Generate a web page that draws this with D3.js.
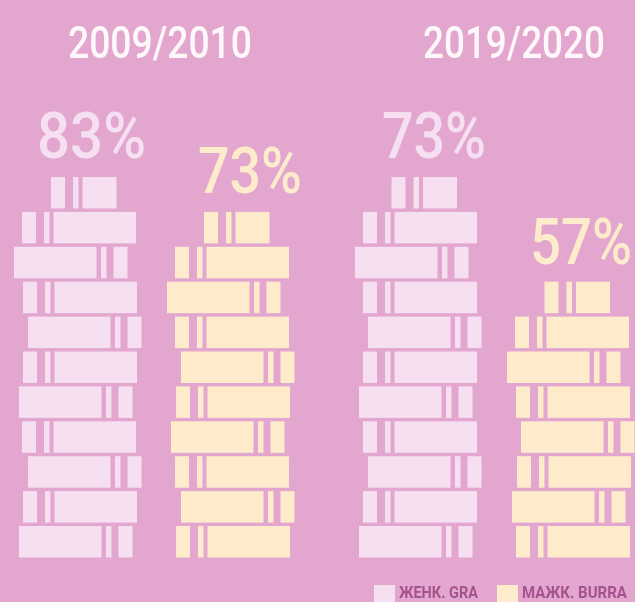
<!DOCTYPE html>
<html><head><meta charset="utf-8">
<script src="https://cdnjs.cloudflare.com/ajax/libs/d3/7.8.5/d3.min.js"></script>
<style>html,body{margin:0;padding:0;background:#e3a7cf;overflow:hidden}svg{display:block}</style>
</head><body><svg id="c" width="635" height="602"></svg>
<script>
const periods = ["2009/2010", "2019/2020"];
const groups = ["ЖЕНК. GRA", "МАЖК. BURRA"];
const shareWomen = [83, 73];
const shareMen = [73, 57];
const booksWomen = [11, 11];
const booksMen = [10, 8];

const W = 635, H = 602;
const FONT = "Roboto, sans-serif";
const svg = d3.select("#c");
const defs = svg.append("defs");
defs.append("filter").attr("id","soft").attr("x","-5%").attr("y","-5%").attr("width","110%").attr("height","110%")
  .append("feGaussianBlur").attr("stdDeviation",0.65);
const root = svg.append("g").attr("filter","url(#soft)");
root.append("rect").attr("width",W).attr("height",H).attr("fill","#e3a7cf");

const PINK = "#f5dff0", YEL = "#fdebcc";
// rows counted from the bottom of the pile
const rowY = d3.scalePoint().domain(d3.range(11)).range([526, 177]);
const bookH = 31.5;
// decorative placement of each pile: book left edges from the bottom row up, and whether the bottom book is flipped
const stacks = [
  {share: shareWomen[0], n: booksWomen[0], col: PINK, left: [19,23,28,22,19,23,28,23,14,22], top: 51, flip0: true, lx: 37, lw: 109, ly: 158},
  {share: shareMen[0], n: booksMen[0], col: YEL, left: [176,181,175,171,176,181,175,167,175], top: 204, flip0: false, lx: 198, lw: 104, ly: 193},
  {share: shareWomen[1], n: booksWomen[1], col: PINK, left: [359,363,368,363,359,363,368,363,355,363], top: 391.5, flip0: true, lx: 382, lw: 104, ly: 158},
  {share: shareMen[1], n: booksMen[1], col: YEL, left: [516,512,517,521,516,507,515], top: 544.5, flip0: false, lx: 530, lw: 102, ly: 264}
];
function drawBook(g, x0, y, isFlip, col, wide) {
  const parts = isFlip
    ? [[0, wide], [wide + 4.5, 5.5], [wide + 17, 14]]
    : [[0, 14], [22, 5.5], [31.5, wide]];
  g.selectAll(null).data(parts).join("rect")
    .attr("x", d => x0 + d[0]).attr("y", y)
    .attr("width", d => d[1]).attr("height", bookH).attr("fill", col);
}
// squeeze a text horizontally to a given width, like the condensed face of the original
function fitText(str, x, y, width, size, weight, col) {
  const t = root.append("text").text(str)
    .attr("font-family",FONT).attr("font-weight",weight).attr("font-size",size).attr("fill",col);
  const natural = t.node().getComputedTextLength();
  t.attr("transform", `translate(${x},${y}) scale(${width / natural},1)`);
}
stacks.forEach(s => {
  const g = root.append("g");
  d3.range(s.n).forEach(i => {
    const y = rowY(i);
    if (i === s.n - 1) {
      drawBook(g, s.top, y, false, s.col, 34);
    } else {
      const fl = (i % 2 === 0) === s.flip0;
      drawBook(g, s.left[i], y, fl, s.col, 82.5);
    }
  });
  fitText(s.share + "%", s.lx, s.ly, s.lw, 65, 500, s.col);
});
periods.forEach((p,i) => {
  fitText(p, [68,423][i], 58, [184,182][i], 44, 500, "#fff8fb");
});
const legX = d3.scaleOrdinal().domain(groups).range([374, 497]);
const legLen = d3.scaleOrdinal().domain(groups).range([79, 105]);
groups.forEach((t,i) => {
  root.append("rect").attr("x",legX(t)).attr("y",585).attr("width",21).attr("height",17)
    .attr("fill", i ? YEL : PINK);
  fitText(t, legX(t)+25, 598, legLen(t), 16, 700, "#a5528d");
});
</script></body></html>
